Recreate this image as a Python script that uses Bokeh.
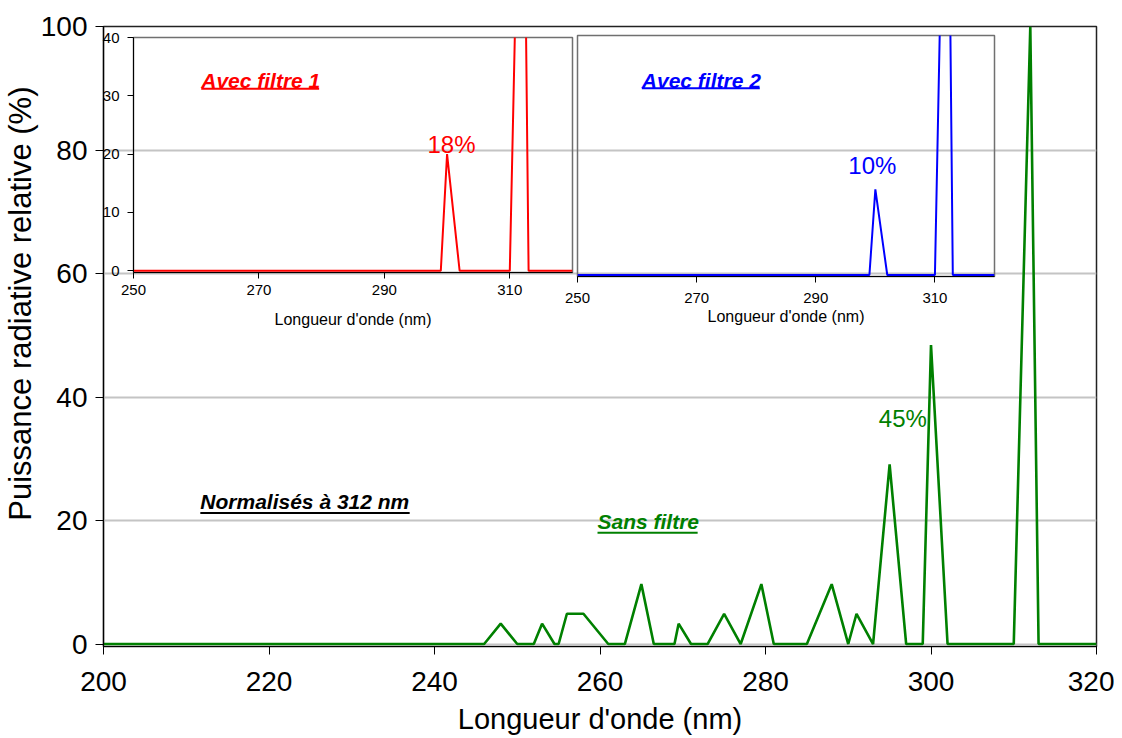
from bokeh.plotting import figure
from bokeh.models import Range1d, FixedTicker, Label, Title
from bokeh.layouts import column
from bokeh.embed import file_html
from bokeh.resources import INLINE

FONT = "Liberation Sans"

# ---------------- data ----------------
main_x_ticks = [200, 220, 240, 260, 280, 300, 320]
main_y_ticks = [0, 20, 40, 60, 80, 100]
inset_x_ticks = [250, 270, 290, 310]
inset_y_ticks = [0, 10, 20, 30, 40]

x_label = "Longueur d'onde (nm)"
y_label = "Puissance radiative relative (%)"

# Sans filtre (green)
wl_sans = [200, 246, 248, 250, 252, 253, 254.5, 255, 256, 258, 261, 263, 265, 266.5,
           269, 269.5, 271, 273, 275, 277, 279.5, 281, 285, 288, 290, 291, 293, 295,
           297, 299, 300, 302, 310, 312, 313, 320]
pw_sans = [0, 0, 3.3, 0, 0, 3.3, 0, 0, 4.9, 4.9, 0, 0, 9.7, 0,
           0, 3.3, 0, 0, 4.9, 0, 9.7, 0, 0, 9.7, 0, 4.9, 0, 29.1,
           0, 0, 48.4, 0, 0, 100, 0, 0]

# Avec filtre 1 (red)
wl_f1 = [250, 299, 300, 302, 310, 312, 313, 320]
pw_f1 = [0, 0, 20.0, 0, 0, 100, 0, 0]

# Avec filtre 2 (blue)
wl_f2 = [250, 299, 300, 302, 310, 312, 313, 320]
pw_f2 = [0, 0, 14.3, 0, 0, 100, 0, 0]

GREEN = "#008000"
RED = "#ff0000"
BLUE = "#0000ff"

# shared horizontal borders (a column aligns its children's frames)
BORDER_L = 103
BORDER_R = 18


def style_axes(fig, tick_size, label_size):
    for ax in (fig.xaxis, fig.yaxis):
        ax.major_label_text_font = FONT
        ax.major_label_text_font_size = tick_size
        ax.major_label_text_color = "black"
        ax.axis_label_text_font = FONT
        ax.axis_label_text_font_size = label_size
        ax.axis_label_text_font_style = "normal"
        ax.axis_label_text_color = "black"
        ax.axis_line_color = "black"
        ax.major_tick_line_color = "black"
        ax.minor_tick_line_color = None


# ---------------- main figure ----------------
p = figure(width=1114, height=737, x_range=Range1d(200, 320), y_range=Range1d(-0.4, 100),
           output_backend="svg", toolbar_location=None,
           min_border_left=BORDER_L, min_border_right=BORDER_R, min_border_top=26,
           min_border_bottom=89)
style_axes(p, "28px", "29px")
p.xaxis.ticker = FixedTicker(ticks=main_x_ticks)
p.yaxis.ticker = FixedTicker(ticks=main_y_ticks)
p.xaxis.axis_label = x_label
p.xaxis.major_tick_out = 8
p.xaxis.major_tick_in = 0
p.yaxis.major_tick_out = 8
p.yaxis.major_tick_in = 0
p.xaxis.major_label_standoff = 17
p.yaxis.major_label_standoff = 8
p.xaxis.axis_label_standoff = 9
p.xaxis.axis_line_width = 1.2
p.yaxis.axis_line_width = 1.2
p.xgrid.visible = False
p.ygrid.grid_line_color = "#c4c4c4"
p.ygrid.grid_line_width = 2
p.outline_line_color = "#222222"
p.outline_line_width = 1.5
p.background_fill_color = "white"

p.line(wl_sans, pw_sans, line_color=GREEN, line_width=2.6)

# y-axis title, its top end placed a little below the top of the frame as in the reference
p.add_layout(Title(text=y_label, align="right", offset=60, text_font=FONT,
                   text_font_size="31px", text_font_style="normal", text_color="black",
                   standoff=0), "left")

p.add_layout(Label(x=211.7, y=23.1, text="Normalisés à 312 nm", text_font=FONT,
                   text_font_size="21px", text_font_style="bold italic", text_color="black",
                   text_align="left", text_baseline="middle"))
p.segment(x0=[211.7], y0=[21.2], x1=[237.0], y1=[21.2], line_color="black", line_width=2)

p.add_layout(Label(x=259.7, y=19.8, text="Sans filtre", text_font=FONT,
                   text_font_size="21px", text_font_style="bold italic", text_color=GREEN,
                   text_align="left", text_baseline="middle"))
p.segment(x0=[259.7], y0=[18.0], x1=[271.8], y1=[18.0], line_color=GREEN, line_width=2)

p.add_layout(Label(x=296.6, y=36.5, text="45%", text_font=FONT, text_font_size="24px",
                   text_color=GREEN, text_align="center", text_baseline="middle"))


def make_inset(width, height, top, bottom, ylo):
    f = figure(width=width, height=height, x_range=Range1d(250, 320), y_range=Range1d(ylo, 40),
               output_backend="svg", toolbar_location=None,
               min_border_left=BORDER_L, min_border_right=BORDER_R, min_border_top=top,
               min_border_bottom=bottom)
    f.background_fill_alpha = 0
    f.border_fill_alpha = 0
    style_axes(f, "15px", "16px")
    f.xaxis.ticker = FixedTicker(ticks=inset_x_ticks)
    f.yaxis.ticker = FixedTicker(ticks=inset_y_ticks)
    f.xaxis.axis_label = x_label
    f.xaxis.major_tick_out = 6
    f.xaxis.major_tick_in = 0
    f.yaxis.major_tick_out = 6
    f.yaxis.major_tick_in = 0
    f.xaxis.major_label_standoff = 6
    f.yaxis.major_label_standoff = 8
    f.xaxis.axis_label_standoff = 13
    f.xgrid.visible = False
    f.ygrid.visible = False
    f.outline_line_color = "#707070"
    f.outline_line_width = 1.5
    return f


# ---------------- inset 1 (red) ----------------
# frame: x 133..572, y 37..272 on the page
in1 = make_inset(BORDER_L + 439 + BORDER_R, 12 + 235 + 66, 12, 66, -0.3)
in1.line(wl_f1, pw_f1, line_color=RED, line_width=2)
in1.add_layout(Label(x=260.8, y=32.7, text="Avec filtre 1", text_font=FONT,
                     text_font_size="21px", text_font_style="bold italic", text_color=RED,
                     text_align="left", text_baseline="middle"))
in1.segment(x0=[260.8], y0=[31.2], x1=[279.6], y1=[31.2], line_color=RED, line_width=2)
in1.add_layout(Label(x=300.7, y=21.6, text="18%", text_font=FONT, text_font_size="24px",
                     text_color=RED, text_align="center", text_baseline="middle"))
in1.styles = {"position": "absolute", "left": f"{133 - BORDER_L}px", "top": "25px"}

# ---------------- inset 2 (blue) ----------------
# frame: x 577..994, y 35..276 on the page
in2 = make_inset(BORDER_L + 417 + BORDER_R, 12 + 241 + 60, 12, 60, -0.25)
in2.yaxis.visible = False
in2.xaxis.major_label_standoff = 10
in2.xaxis.axis_label_standoff = 2
in2.line(wl_f2, pw_f2, line_color=BLUE, line_width=2)
in2.add_layout(Label(x=260.8, y=32.5, text="Avec filtre 2", text_font=FONT,
                     text_font_size="21px", text_font_style="bold italic", text_color=BLUE,
                     text_align="left", text_baseline="middle"))
in2.segment(x0=[260.8], y0=[31.2], x1=[280.6], y1=[31.2], line_color=BLUE, line_width=2)
in2.add_layout(Label(x=299.5, y=18.3, text="10%", text_font=FONT, text_font_size="24px",
                     text_color=BLUE, text_align="center", text_baseline="middle"))
in2.styles = {"position": "absolute", "left": f"{577 - BORDER_L}px", "top": "23px"}

layout = column(p, in1, in2, styles={"position": "relative"})

open("out.html", "w").write(file_html(layout, INLINE))
